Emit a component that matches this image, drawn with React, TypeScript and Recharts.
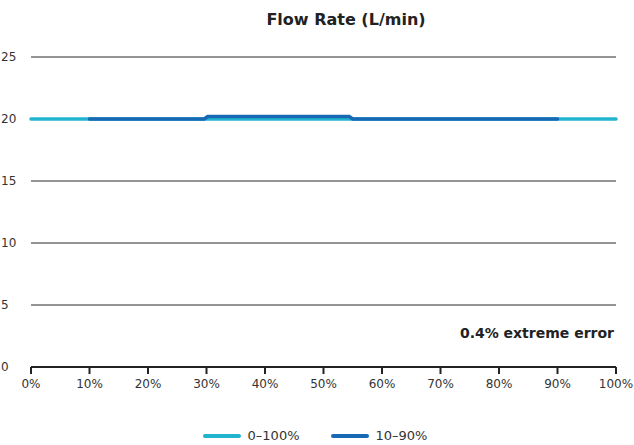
import React from "react";
import { LineChart, Line, CartesianGrid, XAxis, YAxis, Legend } from "recharts";

const FONT = "'DejaVu Sans', Verdana, sans-serif";

const xTicks = [0, 10, 20, 30, 40, 50, 60, 70, 80, 90, 100];
const yTicks = [0, 5, 10, 15, 20, 25];

// 0–100% range: flat across the whole scale
const fullRange = [
  { x: 0, y: 20 },
  { x: 100, y: 20 },
];

// 10–90% range: small bump in the middle
const midRange = [
  { x: 10, y: 20 },
  { x: 29.6, y: 20 },
  { x: 30.2, y: 20.2 },
  { x: 54.4, y: 20.2 },
  { x: 55.0, y: 20 },
  { x: 90, y: 20 },
];

const series = [
  { name: "0–100%", data: fullRange, color: "#22b4cf" },
  { name: "10–90%", data: midRange, color: "#1769b4" },
];

function LegendContent() {
  return (
    <div style={{ display: "flex", justifyContent: "center", gap: 31, paddingLeft: 14, fontFamily: FONT, fontSize: 13, color: "#333" }}>
      {series.map((s) => (
        <div key={s.name} style={{ display: "flex", alignItems: "center" }}>
          <span style={{ display: "inline-block", width: 38, height: 4, borderRadius: 2, background: s.color, marginRight: 7 }} />
          <span>{s.name}</span>
        </div>
      ))}
    </div>
  );
}

export default function App() {
  return (
    <div style={{ position: "absolute", left: 0, top: 0, width: 634, height: 445, background: "#fff" }}>
      <div style={{ position: "absolute", left: 0, width: 634, top: 10, textAlign: "center", paddingLeft: 58, boxSizing: "border-box", fontFamily: FONT, fontWeight: "bold", fontSize: 16, color: "#222" }}>
        Flow Rate (L/min)
      </div>
      <div style={{ position: "absolute", right: 20, top: 325, fontFamily: FONT, fontWeight: "bold", fontSize: 14, color: "#222" }}>
        0.4% extreme error
      </div>
      <LineChart width={634} height={445} margin={{ top: 57, right: 18, left: 0, bottom: 33 }}>
        <CartesianGrid vertical={false} stroke="#2a2a2a" strokeWidth={1} />
        <XAxis
          type="number"
          dataKey="x"
          domain={[0, 100]}
          ticks={xTicks}
          tickFormatter={(v) => `${v}%`}
          tick={{ fontSize: 12, fill: "#333", fontFamily: FONT }}
          axisLine={{ stroke: "#222", strokeWidth: 2 }}
          tickLine={{ stroke: "#222", strokeWidth: 2 }}
          tickSize={7}
          tickMargin={5}
          interval={0}
          allowDuplicatedCategory={false}
        />
        <YAxis
          type="number"
          domain={[0, 25]}
          ticks={yTicks}
          width={31}
          axisLine={false}
          tickLine={false}
          tick={{ fontSize: 12, fill: "#333", fontFamily: FONT, textAnchor: "start", dx: -22 }}
        />
        <Legend verticalAlign="bottom" content={<LegendContent />} wrapperStyle={{ bottom: 2 }} />
        {series.map((s) => (
          <Line
            key={s.name}
            data={s.data}
            dataKey="y"
            name={s.name}
            type="linear"
            stroke={s.color}
            strokeWidth={3.5}
            strokeLinecap="round"
            dot={false}
            activeDot={false}
            isAnimationActive={false}
          />
        ))}
      </LineChart>
    </div>
  );
}
